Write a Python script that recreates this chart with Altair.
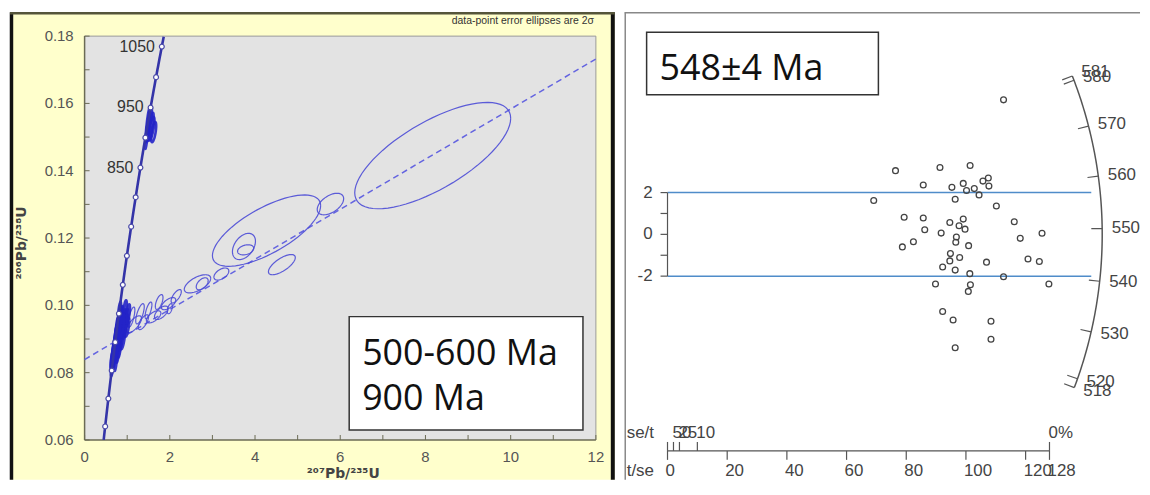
import altair as alt
import numpy as np
import pandas as pd

# ---------------- LEFT PANEL DATA (Wetherill concordia) ----------------
concordia_marker_ages = [400, 450, 500, 550, 600, 650, 700, 750, 800, 850, 900, 950, 1000, 1050]
concordia_label_ages = [850, 950, 1050]
discordia_x = [0.0, 12.0]
discordia_y = [0.0839, 0.1732]

# error ellipses: centre x, half-width x, centre y, half-height y, correlation
ell_x = [0.650, 0.665, 0.680, 0.690, 0.700, 0.712, 0.720, 0.730, 0.745, 0.752, 0.760, 0.772, 0.785, 0.795,
         0.805, 0.815, 0.820, 0.700, 0.725, 0.748, 0.770, 0.790, 0.812, 0.835, 0.850, 0.870, 0.840, 0.760,
         0.735, 0.676, 0.640, 0.890, 0.920, 0.950, 0.980, 0.880, 0.800, 0.860, 0.900, 0.930, 1.000, 0.820,
         0.850, 0.780, 0.730, 0.820, 0.950, 1.020, 0.705, 0.745, 0.790, 0.835, 0.880, 0.665, 0.760,
         1.16, 1.38, 1.62, 1.80, 1.97, 2.15, 2.65, 2.76, 3.21, 3.74, 3.78, 4.27, 4.63, 5.77, 8.17,
         1.30, 1.50, 1.75, 1.10, 2.00,
         1.48, 1.52, 1.57, 1.62, 1.46, 1.54]
ell_sx = [0.035, 0.040, 0.030, 0.045, 0.040, 0.035, 0.050, 0.040, 0.045, 0.035, 0.050, 0.040, 0.045, 0.040,
          0.050, 0.040, 0.035, 0.040, 0.045, 0.040, 0.050, 0.045, 0.040, 0.050, 0.045, 0.040, 0.035, 0.030,
          0.035, 0.030, 0.030, 0.050, 0.045, 0.050, 0.045, 0.040, 0.035, 0.040, 0.050, 0.050, 0.050, 0.040,
          0.045, 0.040, 0.035, 0.035, 0.040, 0.045, 0.060, 0.060, 0.065, 0.060, 0.055, 0.050, 0.055,
          0.175, 0.12, 0.17, 0.16, 0.17, 0.12, 0.31, 0.14, 0.175, 0.27, 0.19, 1.27, 0.315, 0.31, 1.83,
          0.10, 0.08, 0.09, 0.08, 0.06,
          0.05, 0.06, 0.07, 0.06, 0.04, 0.08]
ell_y = [0.0820, 0.0830, 0.0845, 0.0852, 0.0865, 0.0875, 0.0882, 0.0890, 0.0900, 0.0908, 0.0915, 0.0925, 0.0935, 0.0945,
         0.0952, 0.0960, 0.0968, 0.0848, 0.0868, 0.0885, 0.0900, 0.0915, 0.0928, 0.0940, 0.0950, 0.0958, 0.0965, 0.0935,
         0.0912, 0.0860, 0.0835, 0.0948, 0.0960, 0.0945, 0.0958, 0.0925, 0.0905, 0.0972, 0.0900, 0.0930, 0.0935, 0.0875,
         0.0895, 0.0860, 0.0835, 0.0985, 0.0990, 0.0975, 0.0880, 0.0910, 0.0940, 0.0920, 0.0940, 0.0850, 0.0880,
         0.0944, 0.0950, 0.0966, 0.0978, 0.1005, 0.1027, 0.1064, 0.1064, 0.1093, 0.1175, 0.1165, 0.1222, 0.1121, 0.1301, 0.1445,
         0.0975, 0.0985, 0.1010, 0.0965, 0.0990,
         0.1535, 0.1545, 0.1525, 0.1515, 0.1505, 0.1530]
ell_sy = [0.0030, 0.0032, 0.0028, 0.0035, 0.0030, 0.0033, 0.0036, 0.0030, 0.0034, 0.0028, 0.0036, 0.0032, 0.0035, 0.0030,
          0.0034, 0.0030, 0.0028, 0.0030, 0.0032, 0.0030, 0.0034, 0.0032, 0.0030, 0.0034, 0.0030, 0.0028, 0.0030, 0.0028,
          0.0030, 0.0030, 0.0025, 0.0030, 0.0028, 0.0030, 0.0030, 0.0028, 0.0030, 0.0026, 0.0030, 0.0030, 0.0028, 0.0030,
          0.0030, 0.0030, 0.0030, 0.0025, 0.0025, 0.0028, 0.0040, 0.0040, 0.0038, 0.0036, 0.0034, 0.0038, 0.0040,
          0.0025, 0.0022, 0.0018, 0.0020, 0.0018, 0.0020, 0.0027, 0.0018, 0.0018, 0.0039, 0.0015, 0.0106, 0.0030, 0.0032, 0.0158,
          0.0030, 0.0025, 0.0022, 0.0030, 0.0015,
          0.0050, 0.0045, 0.0035, 0.0030, 0.0040, 0.0042]
ell_rho = [0.70, 0.75, 0.70, 0.80, 0.75, 0.70, 0.80, 0.75, 0.80, 0.70, 0.80, 0.75, 0.80, 0.75,
           0.80, 0.70, 0.75, 0.70, 0.75, 0.70, 0.80, 0.75, 0.70, 0.80, 0.75, 0.70, 0.75, 0.70,
           0.75, 0.70, 0.60, 0.70, 0.70, 0.65, 0.70, 0.70, 0.75, 0.70, 0.70, 0.70, 0.70, 0.70,
           0.70, 0.70, 0.70, 0.70, 0.60, 0.65, 0.80, 0.80, 0.80, 0.75, 0.75, 0.80, 0.80,
           0.70, 0.70, 0.60, 0.60, 0.60, 0.70, 0.60, 0.50, 0.50, 0.40, 0.30, 0.70, 0.70, 0.50, 0.70,
           0.70, 0.70, 0.60, 0.70, 0.50,
           0.85, 0.80, 0.70, 0.60, 0.85, 0.80]
# group: 0 = dense concordant cluster / 950 Ma group (heavy strokes), 1 = isolated ellipses
ell_group = [0] * 55 + [1] * 20 + [0] * 6

left_x_ticks = [0, 1, 2, 3, 4, 5, 6, 7, 8, 9, 10, 11, 12]
left_x_labels = [0, 2, 4, 6, 8, 10, 12]
left_y_ticks = [0.06, 0.07, 0.08, 0.09, 0.10, 0.11, 0.12, 0.13, 0.14, 0.15, 0.16, 0.17, 0.18]
left_y_labels = [0.06, 0.08, 0.10, 0.12, 0.14, 0.16, 0.18]

# ---------------- RIGHT PANEL DATA (radial plot) ----------------
pt_tse = [112.6, 76.4, 91.3, 101.4, 85.7, 95.3, 99.1, 100.2, 102.8, 105.7, 107.5, 107.7, 104.4, 96.4, 69.1,
          110.2, 79.3, 85.7, 94.6, 99.1, 97.7, 99.7, 116.2, 86.2, 91.7, 96.8, 125.5, 118.2, 82.4, 78.7,
          96.6, 100.9, 94.8, 97.9, 94.6, 92.2, 96.4, 106.9, 120.8, 124.6, 101.3, 112.6, 89.8, 101.5, 100.8,
          127.8, 92.2, 95.7, 108.4, 108.4, 96.4]
pt_z = [6.44, 3.05, 3.20, 3.30, 2.36, 2.25, 2.44, 2.10, 2.19, 2.55, 2.70, 2.31, 1.89, 1.68, 1.62,
        1.36, 0.82, 0.78, 0.57, 0.73, 0.41, 0.25, 0.60, 0.22, 0.06, -0.13, 0.05, -0.19, -0.35, -0.60,
        -0.38, -0.54, -0.92, -1.11, -1.27, -1.56, -1.71, -1.33, -1.18, -1.30, -1.88, -2.03, -2.38, -2.41, -2.73,
        -2.38, -3.69, -4.10, -4.16, -5.02, -5.43]
arc_tick_ages = [518, 520, 530, 540, 550, 560, 570, 580, 581]
band_z = [-2, 2]
z_ticks = [-2, -1, 0, 1, 2]
z_labels = [-2, 0, 2]
tse_ticks = [0, 20, 40, 60, 80, 100, 120, 128]
set_ticks = [0, 2, 4, 10, 128]
set_label_pos = [2, 4, 10, 128]
set_label_txt = ["50", "25", "10", "0%"]

# ---------------- geometry helpers ----------------
LAM238 = 1.55125e-4  # per Ma
LAM235 = 9.8485e-4   # per Ma

FONT = "Liberation Sans"
BLUE = "#4b4bd6"

LW, LH = 608, 470
RW, RH = 518, 470

lx_ppu = 514 / 12.0
ly_ppu = 406 / 0.12
LX = alt.Scale(domain=[-75 / lx_ppu, (LW - 75) / lx_ppu], zero=False, nice=False)
LY = alt.Scale(domain=[0.06 - (LH - 430) / ly_ppu, 0.18 + 24 / ly_ppu], zero=False, nice=False)


def lx(f):
    return alt.X(f, type="quantitative", scale=LX, axis=None)


def ly(f):
    return alt.Y(f, type="quantitative", scale=LY, axis=None)


one = pd.DataFrame({"a": [0]})

# ---- left layers ----
bg = alt.Chart(one).mark_rect(color="#FFFFCC").encode(
    x=alt.value(0), x2=alt.value(LW), y=alt.value(0), y2=alt.value(LH))

plot_area = alt.Chart(pd.DataFrame({"x0": [0], "x1": [12], "y0": [0.06], "y1": [0.18]})).mark_rect(
    color="#E3E3E3").encode(x=lx("x0"), x2="x1", y=ly("y0"), y2="y1")

frame_light = alt.Chart(pd.DataFrame({"x0": [0, 12], "x1": [12, 12], "y0": [0.18, 0.06], "y1": [0.18, 0.18]})).mark_rule(
    color="#9a9a9a", strokeWidth=1).encode(x=lx("x0"), x2="x1", y=ly("y0"), y2="y1")
frame_dark = alt.Chart(pd.DataFrame({"x0": [0, 0], "x1": [0, 12], "y0": [0.06, 0.06], "y1": [0.18, 0.06]})).mark_rule(
    color="#6b6b55", strokeWidth=1.5).encode(x=lx("x0"), x2="x1", y=ly("y0"), y2="y1")

ytk = pd.DataFrame({"v": left_y_ticks, "x0": 0.0, "x1": 5 / lx_ppu})
ytick_l = alt.Chart(ytk).mark_rule(color="#6b6b55", strokeWidth=1).encode(x=lx("x0"), x2="x1", y=ly("v"))
xtk = pd.DataFrame({"v": left_x_ticks, "y0": 0.06, "y1": 0.06 + 5 / ly_ppu})
xtick_l = alt.Chart(xtk).mark_rule(color="#6b6b55", strokeWidth=1).encode(x=lx("v"), y=ly("y0"), y2="y1")

ylab = pd.DataFrame({"v": left_y_labels, "t": [f"{v:.2f}" for v in left_y_labels]})
ylab_l = alt.Chart(ylab).mark_text(align="right", baseline="middle", font=FONT, fontSize=15,
                                   color="#555555").encode(x=alt.value(64), y=ly("v"), text="t:N")
xlab = pd.DataFrame({"v": left_x_labels, "t": [str(v) for v in left_x_labels]})
xlab_l = alt.Chart(xlab).mark_text(align="center", baseline="middle", font=FONT, fontSize=15,
                                   color="#555555").encode(x=lx("v"), y=alt.value(447), text="t:N")

xtitle = alt.Chart(one).mark_text(text="²⁰⁷Pb/²³⁵U", font="DejaVu Sans", fontSize=14, fontWeight="bold",
                                  color="#444444", align="center", baseline="middle").encode(
    x=alt.value(335), y=alt.value(464))
ytitle = alt.Chart(one).mark_text(text="²⁰⁶Pb/²³⁸U", font="DejaVu Sans", fontSize=14, fontWeight="bold",
                                  color="#444444", align="center", baseline="middle", angle=270).encode(
    x=alt.value(12), y=alt.value(232))
note = alt.Chart(one).mark_text(text="data-point error ellipses are 2σ", font=FONT, fontSize=10.5,
                                color="#333333", align="right", baseline="middle").encode(
    x=alt.value(587), y=alt.value(9))

disc = alt.Chart(pd.DataFrame({"x": discordia_x, "y": discordia_y})).mark_line(
    color="#6464E0", strokeWidth=1.5, strokeDash=[6, 4]).encode(x=lx("x"), y=ly("y"))

theta = np.linspace(0, 2 * np.pi, 73)
rows = []
for i, (cx, sx, cy, sy, r, g) in enumerate(zip(ell_x, ell_sx, ell_y, ell_sy, ell_rho, ell_group)):
    for k, t in enumerate(theta):
        rows.append({"id": i, "k": k, "g": g, "ex": cx + sx * np.cos(t),
                     "ey": cy + sy * (r * np.cos(t) + np.sqrt(1 - r * r) * np.sin(t))})
ell_df = pd.DataFrame(rows)
ell_light = alt.Chart(ell_df[ell_df["g"] == 1]).mark_line(color=BLUE, strokeWidth=1.2, opacity=0.9).encode(
    x=lx("ex"), y=ly("ey"), detail="id:N", order="k:Q")
ell_heavy = alt.Chart(ell_df[ell_df["g"] == 0]).mark_line(color="#2424C8", strokeWidth=2.6, opacity=0.9).encode(
    x=lx("ex"), y=ly("ey"), detail="id:N", order="k:Q")

curve_ages = np.arange(376, 1067, 2.0)
curve = pd.DataFrame({"t": curve_ages, "cx": np.expm1(LAM235 * curve_ages), "cy": np.expm1(LAM238 * curve_ages)})
conc_line = alt.Chart(curve).mark_line(color="#3434A8", strokeWidth=2.6).encode(
    x=lx("cx"), y=ly("cy"), order="t:Q")
mk = pd.DataFrame({"t": concordia_marker_ages})
mk["cx"] = np.expm1(LAM235 * mk["t"])
mk["cy"] = np.expm1(LAM238 * mk["t"])
conc_marks = alt.Chart(mk).mark_point(shape="circle", filled=True, fill="white", stroke="#4a4aa8",
                                      strokeWidth=1.2, size=24, opacity=1).encode(x=lx("cx"), y=ly("cy"))
lb = mk[mk["t"].isin(concordia_label_ages)].copy()
lb["s"] = lb["t"].astype(str)
conc_labels = alt.Chart(lb).mark_text(align="right", baseline="middle", dx=-7, font=FONT, fontSize=16,
                                      color="#333333").encode(x=lx("cx"), y=ly("cy"), text="s:N")

box_l = alt.Chart(one).mark_rect(fill="white", stroke="#333333", strokeWidth=1.5).encode(
    x=alt.value(341), x2=alt.value(576), y=alt.value(306), y2=alt.value(420))
box_t1 = alt.Chart(one).mark_text(text="500-600 Ma", font="Open Sans", fontSize=36, color="#111111",
                                  align="left", baseline="alphabetic").encode(x=alt.value(354), y=alt.value(355))
box_t2 = alt.Chart(one).mark_text(text="900 Ma", font="Open Sans", fontSize=36, color="#111111",
                                  align="left", baseline="alphabetic").encode(x=alt.value(354), y=alt.value(400))

border_left = alt.Chart(one).mark_rule(color="#111111", strokeWidth=3.5).encode(
    x=alt.value(1.5), y=alt.value(0), y2=alt.value(LH))
border_right = alt.Chart(one).mark_rule(color="#111111", strokeWidth=4).encode(
    x=alt.value(LW - 2), y=alt.value(0), y2=alt.value(LH))
border_top = alt.Chart(one).mark_rule(color="#55553a", strokeWidth=2.5).encode(
    x=alt.value(0), x2=alt.value(LW), y=alt.value(1))

left = alt.layer(bg, plot_area, frame_light, frame_dark, ytick_l, xtick_l, ylab_l, xlab_l, xtitle, ytitle,
                 note, disc, ell_light, ell_heavy, conc_line, conc_marks, conc_labels, box_l, box_t1, box_t2,
                 border_left, border_right, border_top).properties(width=LW, height=LH)

# ---------------- RIGHT PANEL ----------------
ox, oy = 43.0, 223.3
rx_ppu, ry_ppu = 3.0, 21.0
RX = alt.Scale(domain=[-ox / rx_ppu, (RW - ox) / rx_ppu], zero=False, nice=False)
RY = alt.Scale(domain=[-(RH - oy) / ry_ppu, oy / ry_ppu], zero=False, nice=False)


def rxe(f):
    return alt.X(f, type="quantitative", scale=RX, axis=None)


def rye(f):
    return alt.Y(f, type="quantitative", scale=RY, axis=None)


R_PX = 437.0
A_ARC = R_PX / rx_ppu
B_ARC = R_PX / ry_ppu
T0, KSL = 548.9, 0.01219


def arc_phi(t):
    return np.arctan(KSL * (np.asarray(t, dtype=float) - T0))


rbg = alt.Chart(one).mark_rect(color="white").encode(
    x=alt.value(0), x2=alt.value(RW), y=alt.value(0), y2=alt.value(RH))
rborder_top = alt.Chart(one).mark_rule(color="#888888", strokeWidth=1.5).encode(
    x=alt.value(0), x2=alt.value(RW), y=alt.value(0.5))
rborder_left = alt.Chart(one).mark_rule(color="#888888", strokeWidth=1.5).encode(
    x=alt.value(0.5), y=alt.value(0), y2=alt.value(RH))

band = pd.DataFrame({"z": band_z, "x0": 0.0, "x1": 142.0})
band_l = alt.Chart(band).mark_rule(color="#4F8CC9", strokeWidth=1.5).encode(x=rxe("x0"), x2="x1", y=rye("z"))

zaxis = alt.Chart(pd.DataFrame({"x": [0.0], "z0": [-2.0], "z1": [2.0]})).mark_rule(
    color="#555555", strokeWidth=1.2).encode(x=rxe("x"), y=rye("z0"), y2="z1")
ztick = alt.Chart(pd.DataFrame({"z": z_ticks})).mark_rule(color="#555555", strokeWidth=1.2).encode(
    x=alt.value(ox - 7), x2=alt.value(ox), y=rye("z"))
zlab = alt.Chart(pd.DataFrame({"z": z_labels, "s": [str(v) for v in z_labels]})).mark_text(
    align="right", baseline="middle", font=FONT, fontSize=17, color="#444444").encode(
    x=alt.value(28), y=rye("z"), text="s:N")

arc_t = np.linspace(min(arc_tick_ages), max(arc_tick_ages), 120)
ph = arc_phi(arc_t)
arc_df = pd.DataFrame({"t": arc_t, "ax": A_ARC * np.cos(ph), "az": B_ARC * np.sin(ph)})
arc = alt.Chart(arc_df).mark_line(color="#555555", strokeWidth=1.5).encode(
    x=rxe("ax"), y=rye("az"), order="t:Q")
php = arc_phi(arc_tick_ages)
atk = pd.DataFrame({"x0": A_ARC * np.cos(php), "z0": B_ARC * np.sin(php),
                    "x1": 0.975 * A_ARC * np.cos(php), "z1": 0.975 * B_ARC * np.sin(php)})
arc_ticks = alt.Chart(atk).mark_rule(color="#555555", strokeWidth=1.2).encode(
    x=rxe("x0"), x2="x1", y=rye("z0"), y2="z1")
alb = pd.DataFrame({"x": 1.022 * A_ARC * np.cos(php), "z": 1.022 * B_ARC * np.sin(php),
                    "s": [str(a) for a in arc_tick_ages]})
arc_labels = alt.Chart(alb).mark_text(align="left", baseline="middle", font=FONT, fontSize=17,
                                      color="#444444").encode(x=rxe("x"), y=rye("z"), text="s:N")

pts = alt.Chart(pd.DataFrame({"tse": pt_tse, "z": pt_z})).mark_point(
    shape="circle", filled=False, color="#444444", strokeWidth=1.3, size=34, opacity=1).encode(
    x=rxe("tse"), y=rye("z"))

AXY = 441
baxis = alt.Chart(pd.DataFrame({"x0": [0.0], "x1": [128.0]})).mark_rule(color="#555555", strokeWidth=1.2).encode(
    x=rxe("x0"), x2="x1", y=alt.value(AXY))
btick_dn = alt.Chart(pd.DataFrame({"v": tse_ticks})).mark_rule(color="#555555", strokeWidth=1.2).encode(
    x=rxe("v"), y=alt.value(AXY), y2=alt.value(AXY + 9))
btick_up = alt.Chart(pd.DataFrame({"v": set_ticks})).mark_rule(color="#555555", strokeWidth=1.2).encode(
    x=rxe("v"), y=alt.value(AXY - 9), y2=alt.value(AXY))
blab_dn = alt.Chart(pd.DataFrame({"v": tse_ticks, "s": [str(v) for v in tse_ticks]})).mark_text(
    align="left", baseline="middle", dx=-2, font=FONT, fontSize=17, color="#444444").encode(
    x=rxe("v"), y=alt.value(461), text="s:N")
blab_up = alt.Chart(pd.DataFrame({"v": set_label_pos, "s": set_label_txt})).mark_text(
    align="left", baseline="middle", dx=-1, font=FONT, fontSize=17, color="#444444").encode(
    x=rxe("v"), y=alt.value(423), text="s:N")
set_title = alt.Chart(one).mark_text(text="se/t", align="left", baseline="middle", font=FONT, fontSize=17,
                                     color="#444444").encode(x=alt.value(2), y=alt.value(423))
tse_title = alt.Chart(one).mark_text(text="t/se", align="left", baseline="middle", font=FONT, fontSize=17,
                                     color="#444444").encode(x=alt.value(2), y=alt.value(461))

box_r = alt.Chart(one).mark_rect(fill="white", stroke="#333333", strokeWidth=1.5).encode(
    x=alt.value(22), x2=alt.value(255), y=alt.value(20), y2=alt.value(83))
box_rt = alt.Chart(one).mark_text(text="548±4 Ma", font="Open Sans", fontSize=36, color="#111111",
                                  align="left", baseline="alphabetic").encode(x=alt.value(35), y=alt.value(68))

right = alt.layer(rbg, rborder_top, rborder_left, band_l, zaxis, ztick, zlab, arc, arc_ticks, arc_labels, pts,
                  baxis, btick_dn, btick_up, blab_dn, blab_up, set_title, tse_title, box_r, box_rt
                  ).properties(width=RW, height=RH)

chart = alt.hconcat(left, right, spacing=6).properties(
    padding=0, background="white"
).configure_view(stroke="transparent")

chart.save("out.html", embed_options={"renderer": "svg", "actions": False})
